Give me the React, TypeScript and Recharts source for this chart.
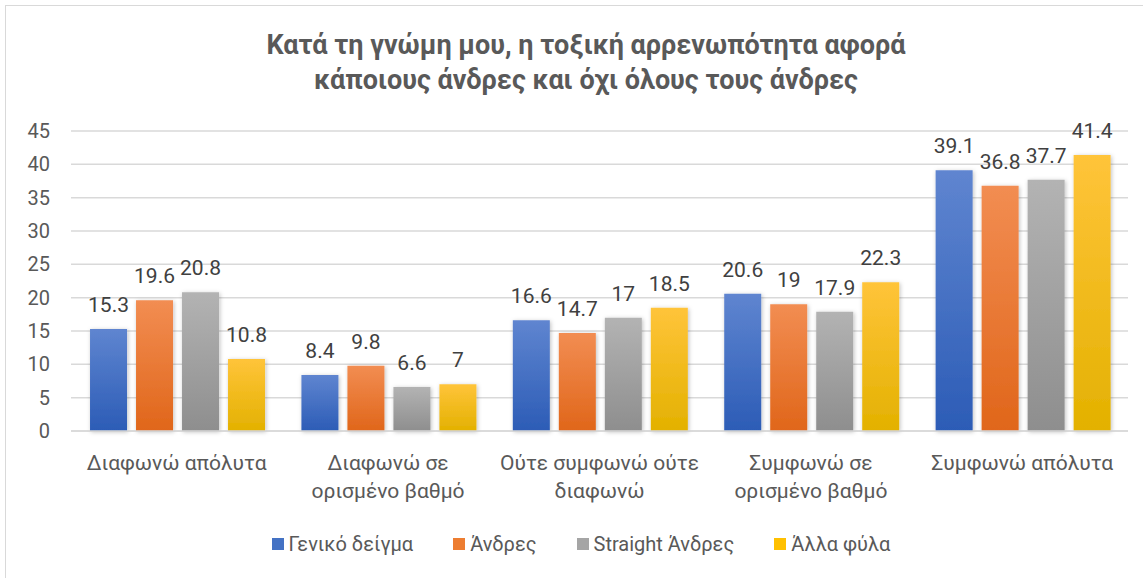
import React from 'react';
import { BarChart, Bar, XAxis, YAxis, CartesianGrid, LabelList } from 'recharts';

const categories = [
    'Διαφωνώ απόλυτα',
    'Διαφωνώ σε ορισμένο βαθμό',
    'Ούτε συμφωνώ ούτε διαφωνώ',
    'Συμφωνώ σε ορισμένο βαθμό',
    'Συμφωνώ απόλυτα',
];
const tickLines = [
    ['Διαφωνώ απόλυτα'],
    ['Διαφωνώ σε', 'ορισμένο βαθμό'],
    ['Ούτε συμφωνώ ούτε', 'διαφωνώ'],
    ['Συμφωνώ σε', 'ορισμένο βαθμό'],
    ['Συμφωνώ απόλυτα'],
];
const seriesNames = ['Γενικό δείγμα', 'Άνδρες', 'Straight Άνδρες', 'Άλλα φύλα'];
const general = [15.3, 8.4, 16.6, 20.6, 39.1];
const men = [19.6, 9.8, 14.7, 19, 36.8];
const straightMen = [20.8, 6.6, 17, 17.9, 37.7];
const otherGenders = [10.8, 7, 18.5, 22.3, 41.4];
const yTicks = [0, 5, 10, 15, 20, 25, 30, 35, 40, 45];

const keys = ['general', 'men', 'straightMen', 'otherGenders'];
const gradients = [
    ['#5f85d0', '#2c5cb6'],
    ['#f28d52', '#e0661a'],
    ['#b3b3b3', '#8e8e8e'],
    ['#ffc43a', '#e3b100'],
];
const legendColors = ['#4472c4', '#ed7d31', '#a5a5a5', '#ffc000'];

const data = categories.map((name, i) => ({
    name,
    general: general[i],
    men: men[i],
    straightMen: straightMen[i],
    otherGenders: otherGenders[i],
}));

const FONT = 'Roboto, "Open Sans", sans-serif';

// two-line category labels like the original
const CategoryTick = (props: any) => {
    const { x, y, payload } = props;
    const lines = tickLines[payload.index] || [payload.value];
    return (
        <text x={x} y={y} textAnchor="middle" fill="#595959" fontSize={21} fontFamily={FONT}>
            {lines.map((l: string, i: number) => (
                <tspan key={i} x={x} dy={i === 0 ? 31 : 28}>{l}</tspan>
            ))}
        </text>
    );
};

const App = () => {
    return (
        <div style={{ position: 'absolute', left: 5, top: 5, width: 1138, height: 573, overflow: 'hidden', borderLeft: '1px solid #d9d9d9', borderTop: '1px solid #d9d9d9', background: '#fff' }}>
            <div style={{ position: 'absolute', left: 0, top: 22, width: 1160, textAlign: 'center', fontFamily: FONT, fontWeight: 700, fontSize: 27, lineHeight: '35px', color: '#595959' }}>
                Κατά τη γνώμη μου, η τοξική αρρενωπότητα αφορά<br />κάποιους άνδρες και όχι όλους τους άνδρες
            </div>
            <BarChart
                width={1160}
                height={580}
                data={data}
                margin={{ top: 125, right: 38, left: 0, bottom: 75 }}
                barCategoryGap="9%"
                barGap={9}
            >
                <defs>
                    {gradients.map((g, i) => (
                        <linearGradient key={i} id={'grad' + i} x1="0" y1="0" x2="0" y2="1">
                            <stop offset="0%" stopColor={g[0]} />
                            <stop offset="100%" stopColor={g[1]} />
                        </linearGradient>
                    ))}
                    <filter id="shadow" x="-20%" y="-20%" width="140%" height="140%">
                        <feDropShadow dx="1" dy="1" stdDeviation="2" floodColor="#000" floodOpacity="0.25" />
                    </filter>
                </defs>
                <CartesianGrid vertical={false} stroke="#d9d9d9" strokeWidth={1.5} />
                <XAxis dataKey="name" axisLine={{ stroke: '#d9d9d9', strokeWidth: 1.5 }} tickLine={false} interval={0} height={80} tick={<CategoryTick />} />
                <YAxis
                    domain={[0, 45]}
                    ticks={yTicks}
                    width={65}
                    axisLine={false}
                    tickLine={false}
                    tickSize={0}
                    tickMargin={21}
                    tick={{ fill: '#595959', fontSize: 20, fontFamily: FONT }}
                />
                {keys.map((k, i) => (
                    <Bar key={k} dataKey={k} name={seriesNames[i]} fill={`url(#grad${i})`} filter="url(#shadow)" isAnimationActive={false}>
                        <LabelList dataKey={k} position="top" offset={17} fill="#404040" fontSize={21} fontFamily={FONT} />
                    </Bar>
                ))}
            </BarChart>
            <div style={{ position: 'absolute', left: 0, top: 526, width: 1150, display: 'flex', justifyContent: 'center', fontFamily: FONT, fontSize: 20, color: '#595959' }}>
                {seriesNames.map((s, i) => (
                    <div key={s} style={{ display: 'flex', alignItems: 'center', marginRight: i < 3 ? 40 : 0 }}>
                        <span style={{ display: 'inline-block', width: 12, height: 12, background: legendColors[i], marginRight: 5 }} />
                        <span>{s}</span>
                    </div>
                ))}
            </div>
        </div>
    );
};

export default App;
